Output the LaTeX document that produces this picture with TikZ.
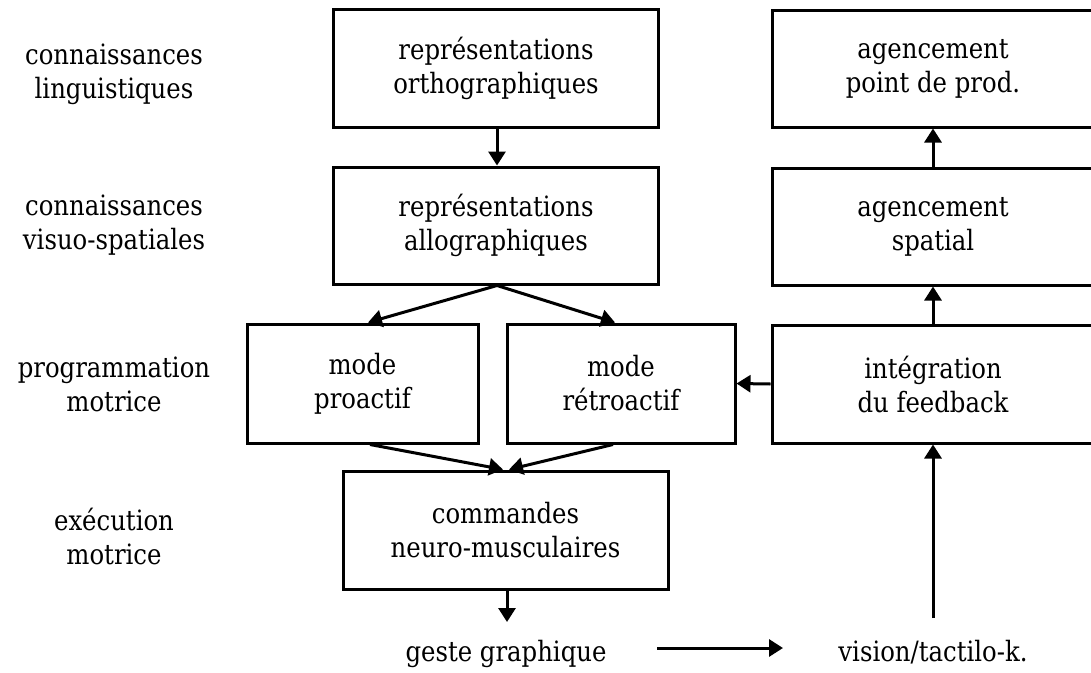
\documentclass[tikz,border=0pt]{standalone}
\usepackage{fontspec}
\setmainfont{DejaVu Serif}[FakeStretch=0.87]
\usetikzlibrary{arrows.meta,calc}
\begin{document}
\begin{tikzpicture}[x=1pt,y=-1pt,
  font=\fontsize{28}{34}\selectfont,
  box/.style={draw=black,line width=3pt,rectangle,align=center,inner sep=0pt},
  lbl/.style={align=center,inner sep=0pt},
  txt/.style={inner sep=0pt,anchor=base},
  conn/.style={line width=3pt,-{Triangle[length=14pt,width=17pt]}}]
\useasboundingbox (0,0) rectangle (1091,672);
\fill[white] (0,0) rectangle (1091,672);
\clip (0,0) rectangle (1091,672);
% left labels
\node[lbl] (l1) at (114,74) {connaissances\\linguistiques};
\node[lbl] (l2) at (114,225) {connaissances\\visuo-spatiales};
\node[lbl] (l3) at (114,384) {programmation\\motrice};
\node[lbl] (l4) at (114,536) {exécution\\motrice};
% boxes
\node[box,minimum width=325pt,minimum height=118pt] (ortho) at (496,68) {représentations\\orthographiques};
\node[box,minimum width=325pt,minimum height=117pt] (allo) at (496,225.5) {représentations\\allographiques};
\node[box,minimum width=231pt,minimum height=119pt] (pro) at (362.5,383.5) {mode\\proactif};
\node[box,minimum width=228pt,minimum height=119pt] (retro) at (621,383.5) {mode\\rétroactif};
\node[box,minimum width=325pt,minimum height=118pt] (cmd) at (505.5,530) {commandes\\neuro-musculaires};
\node[box,minimum width=322pt,minimum height=117pt] (agpt) at (933,68.5) {agencement\\point de prod.};
\node[box,minimum width=322pt,minimum height=117pt] (agsp) at (933,226.5) {agencement\\spatial};
\node[box,minimum width=322pt,minimum height=118pt] (integ) at (933,384) {intégration\\du feedback};
% bottom texts
\node[txt] (geste) at (506,661) {geste graphique};
\node[txt] (vision) at (933,661) {vision/tactilo-k.};
\coordinate (gtip) at (507,622);
\coordinate (ha) at (657,648);
\coordinate (hb) at (783,648);
\coordinate (vbot) at (933,618);
% connectors
\draw[conn] ($(ortho.south)+(1,0)$) -- ($(allo.north)+(1,0)$);
\draw[conn] ($(allo.south)+(1,0)$) -- ($(pro.north)+(5.5,0)$);
\draw[conn] ($(allo.south)+(1,0)$) -- ($(retro.north)+(-6,0)$);
\draw[conn] ($(pro.south)+(7.5,0)$) -- ($(cmd.north)+(-2.5,0)$);
\draw[conn] ($(retro.south)+(-8,0)$) -- ($(cmd.north)+(3.5,0)$);
\draw[conn] (integ.west) -- (retro.east);
\draw[conn] (integ.north) -- (agsp.south);
\draw[conn] (agsp.north) -- (agpt.south);
\draw[conn] (cmd.south -| gtip) -- (gtip);
\draw[conn] (ha) -- (hb);
\draw[conn] (vbot) -- (integ.south);
\end{tikzpicture}
\end{document}
